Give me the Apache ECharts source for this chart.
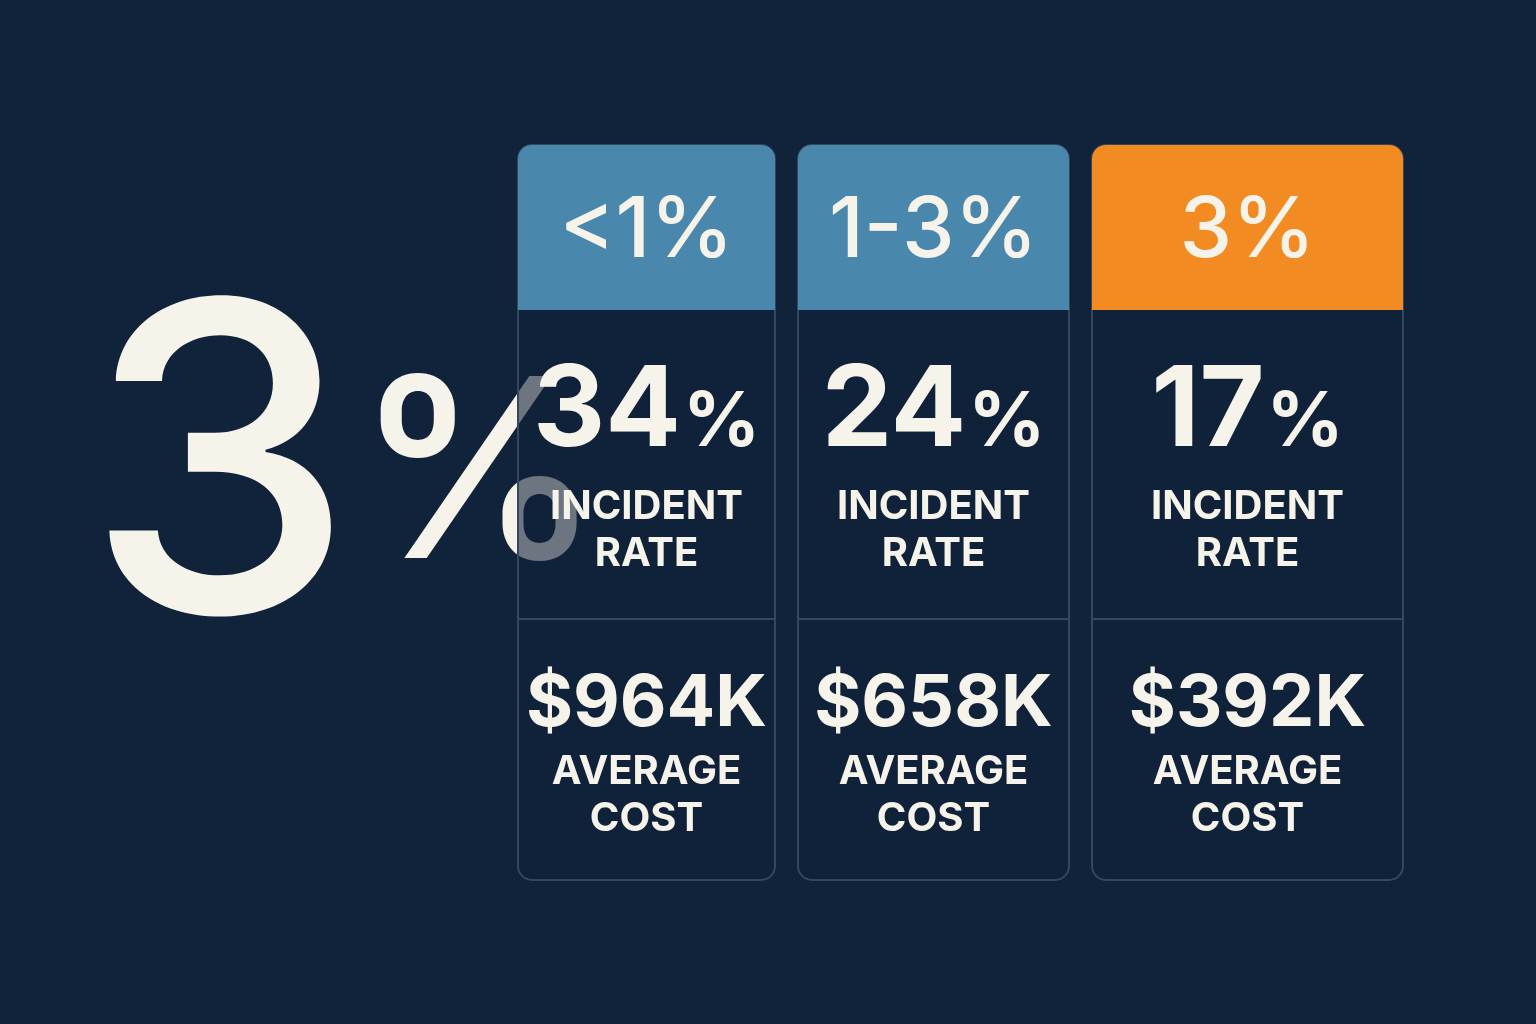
<!DOCTYPE html>
<html>
<head>
    <meta charset="utf-8">
    <title>Incident rate by tier</title>
    <script src="https://cdn.jsdelivr.net/npm/echarts@6/dist/echarts.min.js"></script>
    <style type="text/css">
    html, body { margin: 0; padding: 0; background: #10233a; }
    #main { width: 1536px; height: 1024px; }
    </style>
</head>
<body>
    <div id="main"></div>
    <script type="text/javascript">
        // data
        var headline = '3';
        var tiers = ['<1%', '1-3%', '3%'];
        var incidentRate = [34, 24, 17];
        var avgCost = ['$964K', '$658K', '$392K'];
        var headerColors = ['#4a87ac', '#4a87ac', '#f28b22'];

        // card layout (left edge, width)
        var cardX = [518, 798, 1092];
        var cardW = [257, 271, 311];
        var cardTop = 145, headH = 165, midY = 619, cardBottom = 880;
        var cream = '#f6f3ea';

        var elements = [];
        elements.push({
            type: 'text', x: 85, y: 268,
            style: {
                text: '{a|' + headline + '}{b|%}',
                rich: {
                    a: { fontSize: 430, fontWeight: 500, fill: cream, fontFamily: 'Inter' },
                    b: { fontSize: 250, fontWeight: 500, fill: cream, fontFamily: 'Inter' }
                }
            }
        });

        tiers.forEach(function (t, i) {
            var x = cardX[i], w = cardW[i], cx = x + w / 2;
            elements.push({
                type: 'rect',
                shape: { x: x, y: cardTop, width: w, height: cardBottom - cardTop, r: 14 },
                style: { fill: 'rgba(16,34,56,0.6)', stroke: '#34475d', lineWidth: 2 }
            });
            elements.push({
                type: 'rect',
                shape: { x: x, y: cardTop, width: w, height: headH, r: [14, 14, 0, 0] },
                style: { fill: headerColors[i] }
            });
            elements.push({
                type: 'line',
                shape: { x1: x, y1: midY, x2: x + w, y2: midY },
                style: { stroke: '#34475d', lineWidth: 2 }
            });
            elements.push({
                type: 'text', x: cx, y: cardTop + headH / 2 + 4,
                style: { text: t, fill: cream, fontSize: 84, fontWeight: 500, fontFamily: 'Inter',
                    align: 'center', verticalAlign: 'middle' }
            });
            elements.push({
                type: 'text', x: cx, y: 412,
                style: {
                    text: '{a|' + incidentRate[i] + '}{b|%}',
                    align: 'center', verticalAlign: 'middle',
                    rich: {
                        a: { fontSize: 112, fontWeight: 'bold', fill: cream, fontFamily: 'Inter' },
                        b: { fontSize: 76, fontWeight: 'bold', fill: cream, fontFamily: 'Inter', padding: [22, 0, 0, 2] }
                    }
                }
            });
            elements.push({
                type: 'text', x: cx, y: 530,
                style: { text: 'INCIDENT\nRATE', fill: cream, fontSize: 40, fontWeight: 'bold', lineHeight: 47,
                    fontFamily: 'Inter', align: 'center', verticalAlign: 'middle' }
            });
            elements.push({
                type: 'text', x: cx, y: 704,
                style: { text: avgCost[i], fill: cream, fontSize: 72, fontWeight: 'bold',
                    fontFamily: 'Inter', align: 'center', verticalAlign: 'middle' }
            });
            elements.push({
                type: 'text', x: cx, y: 795,
                style: { text: 'AVERAGE\nCOST', fill: cream, fontSize: 40, fontWeight: 'bold', lineHeight: 47,
                    fontFamily: 'Inter', align: 'center', verticalAlign: 'middle' }
            });
        });

        var myChart = echarts.init(document.getElementById('main'));
        myChart.setOption({
            backgroundColor: '#10233a',
            graphic: { elements: elements }
        });
    </script>
</body>
</html>
